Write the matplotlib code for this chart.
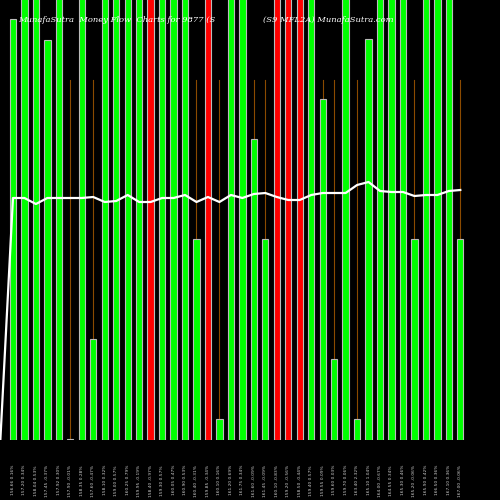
import numpy as np
import matplotlib
matplotlib.use("Agg")
import matplotlib.pyplot as plt

# bar heights (pixels from baseline, 440 = top of chart), colours, money flow line
bar_values = [421, 480, 480, 400, 480, 1, 480, 101, 480, 480, 480, 480, 480, 480, 480, 480,
              201, 480, 21, 480, 480, 301, 201, 480, 480, 480, 480, 341, 81, 480, 21, 401,
              480, 480, 480, 201, 480, 480, 480, 201]
bar_colors = ['g'] * 40
for i in [12, 17, 23, 24, 25]:
    bar_colors[i] = 'r'
bar_colors[5] = 'w'
line_values = [242, 242, 236, 242, 242, 242, 242, 243, 238, 239, 245, 238, 238, 242, 242, 245,
               238, 243, 238, 245, 242, 246, 247, 243, 240, 240, 245, 247, 247, 247, 255, 258,
               249, 248, 248, 244, 245, 245, 249, 250]
line_start = 0
prices = [156.66, 157.20, 158.04, 157.45, 157.92, 157.90, 158.35, 157.60, 158.10, 159.00,
          160.25, 159.95, 158.40, 159.30, 160.05, 160.90, 160.40, 159.85, 160.10, 161.20,
          161.75, 161.60, 161.45, 160.10, 159.20, 158.50, 159.40, 159.55, 159.60, 159.70,
          163.40, 165.10, 164.00, 164.55, 165.30, 165.20, 165.90, 166.50, 167.10, 167.00]
changes = [0.16, 0.34, 0.53, -0.37, 0.30, -0.01, 0.28, -0.47, 0.32, 0.57,
           0.79, -0.19, -0.97, 0.57, 0.47, 0.53, -0.31, -0.34, 0.16, 0.69,
           0.34, -0.09, -0.09, -0.83, -0.56, -0.44, 0.57, 0.09, 0.03, 0.06,
           2.32, 1.04, -0.67, 0.34, 0.46, -0.06, 0.42, 0.36, 0.36, -0.06]
tick_labels = [f"{p:.2f} {c:.2f}%" for p, c in zip(prices, changes)]

colmap = {'g': '#00ff00', 'r': '#ff0000', 'w': '#ccffcc'}
x = np.arange(len(bar_values))

fig = plt.figure(figsize=(5, 5), dpi=100, facecolor='black')
ax = fig.add_axes([0, 0.12, 1, 0.88])
ax.set_facecolor('black')

for xi, v in zip(x, bar_values):
    if v < 360:
        ax.plot([xi, xi], [0, 360], color='#8b4a00', lw=0.8, zorder=1)
ax.bar(x, bar_values, width=0.55, color=[colmap[c] for c in bar_colors],
       edgecolor='#bbbbbb', linewidth=0.8, zorder=2)
ax.plot(np.concatenate([[-1.1], x]), [line_start] + line_values, color='white', lw=1.6, zorder=3)

ax.set_xlim(-1.13, 42.46)
ax.set_ylim(0, 440)
ax.set_xticks(x)
ax.set_xticklabels(tick_labels, rotation=90, fontsize=3.2, color='#cccccc')
ax.tick_params(length=0, pad=18)
ax.set_yticks([])
for s in ax.spines.values():
    s.set_visible(False)

fig.text(0.036, 0.955, "MunafaSutra  Money Flow  Charts for 9877 (S", color='white',
         fontsize=6, style='italic', family='serif')
fig.text(0.526, 0.955, "(S9 MFL2A) MunafaSutra.com", color='white',
         fontsize=6, style='italic', family='serif')

fig.savefig('out.png', dpi=100, facecolor='black')
